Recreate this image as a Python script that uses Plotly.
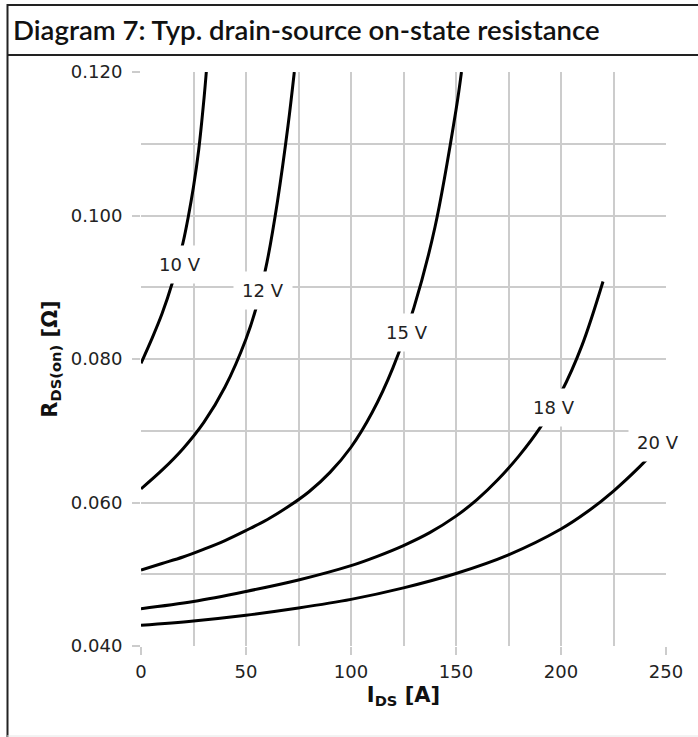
import plotly.graph_objects as go

# ---- data ----
x_10v = [0, 5, 10, 15, 20, 22.5, 25, 27.5, 30, 31.1]
y_10v = [0.0794, 0.0827, 0.0863, 0.0907, 0.0962, 0.0998, 0.1040, 0.1092, 0.1163, 0.1200]

x_12v = [0, 10, 20, 30, 40, 50, 55, 60, 65, 70, 73]
y_12v = [0.0619, 0.0645, 0.0675, 0.0712, 0.0761, 0.0828, 0.0873, 0.0935, 0.1020, 0.1125, 0.1200]

x_15v = [0, 10, 20, 30, 40, 50, 60, 70, 80, 90, 100, 110, 120, 130, 140, 150, 152.6]
y_15v = [0.0506, 0.0515, 0.0524, 0.0535, 0.0547, 0.0561, 0.0576, 0.0594, 0.0615, 0.0642, 0.0677,
         0.0725, 0.0788, 0.0872, 0.0984, 0.1147, 0.1200]

x_18v = [0, 25, 50, 75, 100, 112.5, 125, 137.5, 150, 160, 170, 180, 190, 200, 210, 220]
y_18v = [0.0452, 0.0462, 0.0476, 0.0492, 0.0512, 0.0525, 0.0540, 0.0558, 0.0581, 0.0604, 0.0632,
         0.0665, 0.0704, 0.0753, 0.0819, 0.0908]

x_20v = [0, 25, 50, 75, 100, 125, 150, 175, 200, 212.5, 225, 237.5, 250]
y_20v = [0.0429, 0.0435, 0.0443, 0.0453, 0.0465, 0.0481, 0.0501, 0.0527, 0.0563, 0.0587, 0.0616, 0.0650, 0.0688]

curve_labels = ["10 V", "12 V", "15 V", "18 V", "20 V"]
label_x = [18.7, 58.0, 126.9, 196.9, 246.4]
label_y = [0.0932, 0.0895, 0.0837, 0.0733, 0.0683]

x_ticks = [0, 50, 100, 150, 200, 250]
y_ticks = [0.040, 0.060, 0.080, 0.100, 0.120]
y_tick_text = ["0.040", "0.060", "0.080", "0.100", "0.120"]

title_text = "Diagram 7: Typ. drain-source on-state resistance"
x_title = "<b>I<sub>DS</sub> [A]</b>"
y_title = "<b>R<sub>DS(on)</sub> [Ω]</b>"

# ---- figure ----
W, H = 698, 737
L, R, T, B = 141, 32, 72, 91
PW, PH = W - L - R, H - T - B

def px(xp):
    return (xp - L) / PW

def py(yp):
    return 1 - (yp - T) / PH

fig = go.Figure()
series = [(x_10v, y_10v), (x_12v, y_12v), (x_15v, y_15v), (x_18v, y_18v), (x_20v, y_20v)]
for (xs, ys), name in zip(series, curve_labels):
    fig.add_trace(go.Scatter(x=xs, y=ys, mode="lines", name=name,
                             line=dict(color="black", width=3, shape="spline", smoothing=1.0),
                             hoverinfo="skip", showlegend=False))

for t, xv, yv in zip(curve_labels, label_x, label_y):
    fig.add_annotation(x=xv, y=yv, xref="x", yref="y", text=t, showarrow=False,
                       font=dict(family="DejaVu Sans", size=18, color="#222"),
                       bgcolor="white", borderpad=8)

# title
fig.add_annotation(x=px(11), y=py(30), xref="paper", yref="paper", text=title_text,
                   showarrow=False, xanchor="left", yanchor="middle",
                   font=dict(family="Lato", size=27.6, color="#111", weight=600))

# frame lines
border = dict(color="#222", width=2)
fig.add_shape(type="line", xref="paper", yref="paper", x0=px(7), x1=px(W + 5), y0=py(5), y1=py(5), line=border)
fig.add_shape(type="line", xref="paper", yref="paper", x0=px(7), x1=px(W + 5), y0=py(55), y1=py(55), line=border)
fig.add_shape(type="line", xref="paper", yref="paper", x0=px(7.5), x1=px(7.5), y0=py(4), y1=py(H + 5), line=border)
fig.add_shape(type="line", xref="paper", yref="paper", x0=px(7), x1=px(W + 5), y0=py(736), y1=py(736),
              line=dict(color="#e6e6e6", width=1))

grid = "#cccccc"
fig.update_xaxes(range=[0, 250], tickvals=x_ticks, ticks="outside", ticklen=8, tickwidth=1.5,
                 tickcolor=grid, showgrid=True, gridcolor=grid, gridwidth=1.5,
                 minor=dict(dtick=25, showgrid=True, gridcolor=grid, gridwidth=1.5, ticks=""),
                 zeroline=False, showline=False, ticklabelstandoff=1,
                 tickfont=dict(family="DejaVu Sans", size=18, color="#222"),
                 title=dict(text=x_title, font=dict(family="DejaVu Sans", size=21, color="#111"), standoff=6))
fig.update_yaxes(range=[0.040, 0.120], tickvals=y_ticks, ticktext=y_tick_text, ticks="outside", ticklen=8,
                 tickwidth=1.5, tickcolor=grid, showgrid=True, gridcolor=grid, gridwidth=1.5,
                 minor=dict(dtick=0.01, tick0=0, showgrid=True, gridcolor=grid, gridwidth=1.5, ticks=""),
                 zeroline=False, showline=False, ticklabelstandoff=6,
                 tickfont=dict(family="DejaVu Sans", size=18, color="#222"),
                 title=dict(text=y_title, font=dict(family="DejaVu Sans", size=21, color="#111"), standoff=7))

fig.update_layout(width=W, height=H, margin=dict(l=L, r=R, t=T, b=B),
                  paper_bgcolor="white", plot_bgcolor="white", showlegend=False)

fig.write_html("out.html", config={"displayModeBar": False},
               post_script="document.body.style.margin='0';document.body.style.overflow='hidden';")
